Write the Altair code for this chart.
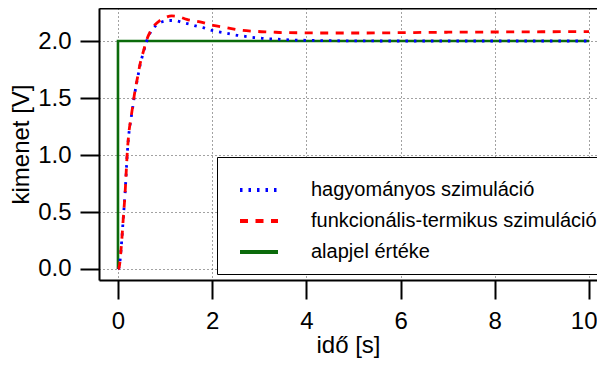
import altair as alt
import pandas as pd

# --- data ---
t_hagy = [0.0, 0.02, 0.08, 0.11, 0.15, 0.2, 0.23, 0.27, 0.31, 0.36, 0.41, 0.47, 0.54, 0.61, 0.71,
          0.85, 1.0, 1.1, 1.22, 1.39, 1.53, 1.67, 1.81, 1.95, 2.08, 2.24, 2.38, 2.53, 2.7, 2.85,
          3.01, 3.17, 3.33, 3.51, 3.67, 4.0, 4.5, 5.0, 6.0, 7.0, 8.0, 9.0, 10.0]
y_hagy = [0.0, 0.01, 0.25, 0.43, 0.66, 1.03, 1.18, 1.3, 1.41, 1.55, 1.66, 1.79, 1.9, 2.0, 2.09,
          2.15, 2.175, 2.18, 2.178, 2.16, 2.146, 2.13, 2.117, 2.098, 2.086, 2.073, 2.061, 2.05, 2.041, 2.032,
          2.026, 2.02, 2.017, 2.013, 2.009, 2.006, 2.003, 2.001, 2.0, 2.0, 2.0, 2.0, 2.0]

t_funk = [0.0, 0.02, 0.08, 0.11, 0.15, 0.2, 0.23, 0.27, 0.31, 0.36, 0.41, 0.47, 0.54, 0.61, 0.71,
          0.89, 1.0, 1.14, 1.3, 1.46, 1.74, 2.02, 2.31, 2.6, 2.91, 3.24, 3.57, 3.91, 4.5, 5.2,
          6.0, 7.0, 8.0, 9.0, 10.0]
y_funk = [0.0, 0.01, 0.25, 0.43, 0.66, 1.04, 1.19, 1.31, 1.42, 1.56, 1.67, 1.8, 1.91, 2.01, 2.1,
          2.18, 2.205, 2.22, 2.212, 2.19, 2.167, 2.138, 2.117, 2.096, 2.085, 2.079, 2.073, 2.072, 2.07, 2.07,
          2.073, 2.077, 2.079, 2.081, 2.082]

t_alap = [0.0, 0.0, 10.0]
y_alap = [0.0, 2.0, 2.0]

names = ["hagyományos szimuláció", "funkcionális-termikus szimuláció", "alapjel értéke"]
colors = ["#0000ff", "#ff0000", "#0b6b0b"]
dashes = [[2.5, 6], [8, 7.5], [1, 0]]

x_ticks = [0, 2, 4, 6, 8, 10]
y_ticks = [0.0, 0.5, 1.0, 1.5, 2.0]

x_title = "idő [s]"
y_title = "kimenet [V]"

# --- tables ---
rows = []
for i, (t, v) in enumerate(zip(t_hagy, y_hagy)):
    rows.append({"t": t, "v": v, "series": names[0], "ord": i})
for i, (t, v) in enumerate(zip(t_funk, y_funk)):
    rows.append({"t": t, "v": v, "series": names[1], "ord": i})
curves = pd.DataFrame(rows)
setp = pd.DataFrame({"t": t_alap, "v": y_alap, "series": [names[2]] * len(t_alap),
                     "ord": list(range(len(t_alap)))})

FONT = "Liberation Sans"
xdom = [-0.403, 10.17]
ydom = [-0.0965, 2.2895]

xscale = alt.Scale(domain=xdom, nice=False, zero=False)
yscale = alt.Scale(domain=ydom, nice=False, zero=False)
cscale = alt.Scale(domain=names, range=colors)
dscale = alt.Scale(domain=names, range=dashes)

legend = alt.Legend(
    title=None, orient="none", legendX=118, legendY=149, padding=12,
    fillColor="white", strokeColor="black",
    symbolType="stroke", symbolSize=1444, symbolStrokeWidth=4, symbolOffset=9,
    labelFont=FONT, labelFontSize=20, labelOffset=31, labelColor="black",
    rowPadding=0, labelLimit=1000,
)

xaxis = alt.Axis(values=x_ticks, format="d", title=x_title, grid=True,
                 gridDash=[1, 3], gridColor="#444", gridWidth=1,
                 tickSize=19, tickWidth=2, tickColor="black",
                 domainWidth=2, domainColor="black",
                 labelFont=FONT, labelFontSize=24, labelPadding=10, labelColor="black",
                 labelFlush=10, labelFlushOffset=8,
                 titleFont=FONT, titleFontSize=24, titleFontWeight="normal",
                 titlePadding=0, titleColor="black")
yaxis = alt.Axis(values=y_ticks, format=".1f", title=y_title, grid=True,
                 gridDash=[1, 3], gridColor="#444", gridWidth=1,
                 tickSize=19, tickWidth=2, tickColor="black",
                 domainWidth=2, domainColor="black",
                 labelFont=FONT, labelFontSize=24, labelPadding=9, labelColor="black",
                 titleFont=FONT, titleFontSize=24, titleFontWeight="normal",
                 titlePadding=4, titleColor="black")
topaxis = alt.Axis(orient="top", labels=False, ticks=False, grid=False, title=None,
                   domainWidth=2, domainColor="black")

curve_layer = alt.Chart(curves).mark_line(
    interpolate="monotone", strokeWidth=2.8
).encode(
    x=alt.X("t:Q", scale=xscale, axis=xaxis),
    y=alt.Y("v:Q", scale=yscale, axis=yaxis),
    color=alt.Color("series:N", scale=cscale, legend=legend),
    strokeDash=alt.StrokeDash("series:N", scale=dscale, legend=legend),
    order="ord:Q",
)

set_layer = alt.Chart(setp).mark_line(strokeWidth=2.6).encode(
    x=alt.X("t:Q", scale=xscale, axis=None),
    y=alt.Y("v:Q", scale=yscale, axis=yaxis),
    color=alt.Color("series:N", scale=cscale, legend=legend),
    strokeDash=alt.StrokeDash("series:N", scale=dscale, legend=legend),
    order="ord:Q",
)

frame_layer = alt.Chart(setp).mark_line(opacity=0).encode(
    x=alt.X("t:Q", scale=xscale, axis=topaxis),
    y=alt.Y("v:Q", scale=yscale, axis=yaxis),
)

chart = alt.layer(set_layer, curve_layer, frame_layer).resolve_axis(
    x="independent"
).properties(
    width=498, height=272,
    autosize=alt.AutoSizeParams(type="none"),
    padding={"left": 91, "top": 0, "right": 0, "bottom": 78},
).configure_view(stroke=None).configure_legend(strokeWidth=2).configure(background="white")

chart.save("out.html", embed_options={"renderer": "svg", "actions": False})
